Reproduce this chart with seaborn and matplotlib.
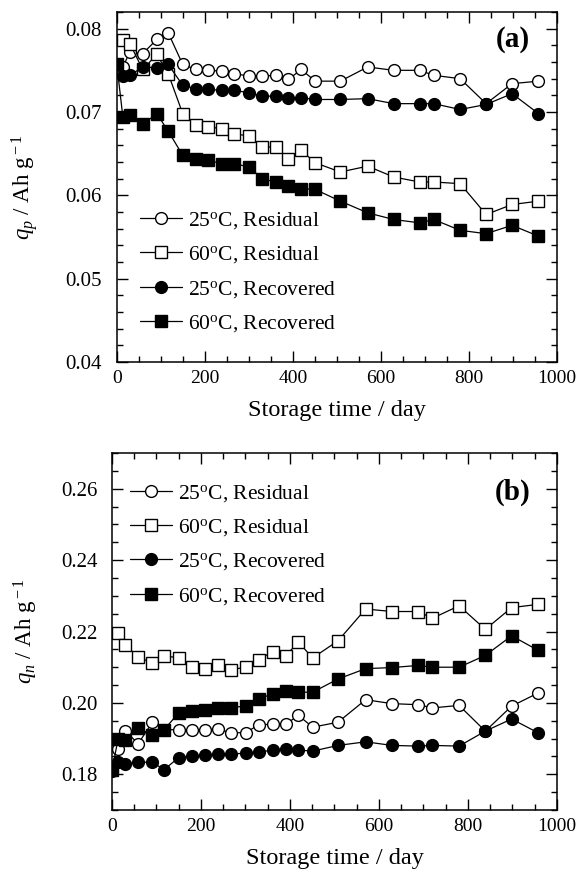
import matplotlib
matplotlib.use("Agg")
import matplotlib.pyplot as plt
import seaborn as sns
import pandas as pd
from matplotlib.ticker import MultipleLocator

# ---------------- data ----------------
days_all = [0, 14, 30, 59, 91, 117, 150, 180, 208, 239, 267, 301, 330, 361, 390,
            419, 451, 508, 570, 629, 688, 720, 780, 839, 898, 958]
days_res = days_all[1:]

labels = ["25$^{\\rm o}$C, Residual", "60$^{\\rm o}$C, Residual",
          "25$^{\\rm o}$C, Recovered", "60$^{\\rm o}$C, Recovered"]

# panel (a): q_p
res25_a = [0.0754, 0.0772, 0.0770, 0.0787, 0.0795, 0.0757, 0.0751, 0.0750, 0.0749,
           0.0746, 0.0743, 0.0743, 0.0744, 0.0739, 0.0751, 0.0737, 0.0737, 0.0754,
           0.0750, 0.0750, 0.0744, 0.0740, 0.0710, 0.0734, 0.0737]
res60_a = [0.0786, 0.0782, 0.0751, 0.0769, 0.0746, 0.0698, 0.0684, 0.0682, 0.0680,
           0.0674, 0.0671, 0.0658, 0.0658, 0.0643, 0.0654, 0.0639, 0.0628, 0.0635,
           0.0622, 0.0616, 0.0616, 0.0614, 0.0577, 0.0589, 0.0593]
rec25_a = [0.0758, 0.0743, 0.0744, 0.0754, 0.0753, 0.0757, 0.0732, 0.0728, 0.0727,
           0.0726, 0.0726, 0.0723, 0.0719, 0.0719, 0.0717, 0.0717, 0.0715, 0.0715,
           0.0716, 0.0710, 0.0710, 0.0710, 0.0703, 0.0709, 0.0722, 0.0698]
rec60_a = [0.0758, 0.0694, 0.0696, 0.0685, 0.0698, 0.0677, 0.0648, 0.0643, 0.0642,
           0.0638, 0.0638, 0.0634, 0.0620, 0.0616, 0.0611, 0.0608, 0.0607, 0.0593,
           0.0579, 0.0571, 0.0567, 0.0571, 0.0558, 0.0554, 0.0564, 0.0551]

# panel (b): q_n
res25_b = [0.1870, 0.1921, 0.1886, 0.1946, 0.1925, 0.1925, 0.1925, 0.1925, 0.1927,
           0.1916, 0.1917, 0.1939, 0.1940, 0.1940, 0.1965, 0.1932, 0.1946, 0.2009,
           0.1998, 0.1995, 0.1986, 0.1993, 0.1921, 0.1991, 0.2028]
res60_b = [0.2195, 0.2163, 0.2128, 0.2112, 0.2132, 0.2126, 0.2100, 0.2095, 0.2107,
           0.2093, 0.2100, 0.2121, 0.2144, 0.2132, 0.2170, 0.2126, 0.2174, 0.2263,
           0.2256, 0.2256, 0.2237, 0.2272, 0.2206, 0.2267, 0.2276]
rec25_b = [0.1809, 0.1835, 0.1830, 0.1834, 0.1834, 0.1813, 0.1847, 0.1851, 0.1853,
           0.1856, 0.1856, 0.1860, 0.1862, 0.1868, 0.1872, 0.1868, 0.1865, 0.1881,
           0.1891, 0.1881, 0.1879, 0.1881, 0.1879, 0.1921, 0.1955, 0.1916]
rec60_b = [0.1812, 0.1900, 0.1896, 0.1930, 0.1909, 0.1925, 0.1972, 0.1977, 0.1979,
           0.1986, 0.1986, 0.1992, 0.2012, 0.2025, 0.2034, 0.2030, 0.2030, 0.2067,
           0.2096, 0.2099, 0.2105, 0.2100, 0.2100, 0.2133, 0.2188, 0.2147]

# ---------------- style ----------------
sns.set_theme(style="ticks", rc={"axes.edgecolor": "black", "text.color": "black",
                                 "xtick.color": "black", "ytick.color": "black",
                                 "axes.labelcolor": "black"})
plt.rcParams["font.family"] = ["Liberation Serif", "DejaVu Serif"]
plt.rcParams["mathtext.fontset"] = "custom"
plt.rcParams["mathtext.rm"] = "Liberation Serif"
plt.rcParams["mathtext.it"] = "Liberation Serif:italic"
plt.rcParams["mathtext.bf"] = "Liberation Serif:bold"

FS = 15.5
markers = ["o", "s", "o", "s"]
faces = ["white", "white", "black", "black"]

fig = plt.figure(figsize=(5.76, 8.74), dpi=100)
ax_a = fig.add_axes([0.2026, 0.5858, 0.7644, 0.4005])
ax_b = fig.add_axes([0.1944, 0.0732, 0.7726, 0.4085])


def draw(ax, series):
    for (xs, ys), lab, m, fc in zip(series, labels, markers, faces):
        df = pd.DataFrame({"day": xs, "q": ys})
        sns.lineplot(data=df, x="day", y="q", ax=ax, sort=False, estimator=None,
                     color="black", linewidth=0.9, marker=m,
                     markersize=8.5 if m == "o" else 8,
                     markerfacecolor=fc, markeredgecolor="black", markeredgewidth=1.0,
                     label=lab)


draw(ax_a, [(days_res, res25_a), (days_res, res60_a), (days_all, rec25_a), (days_all, rec60_a)])
draw(ax_b, [(days_res, res25_b), (days_res, res60_b), (days_all, rec25_b), (days_all, rec60_b)])

for ax in (ax_a, ax_b):
    ax.set_xlim(0, 1000)
    ax.xaxis.set_major_locator(MultipleLocator(200))
    ax.xaxis.set_minor_locator(MultipleLocator(50))
    ax.tick_params(which="both", direction="in", top=True, right=True, width=1.0)
    ax.tick_params(which="major", length=8)
    ax.tick_params(which="minor", length=4)
    ax.tick_params(axis="x", which="major", pad=6, labelsize=14)
    ax.tick_params(axis="y", which="major", pad=10.5, labelsize=15)
    for s in ax.spines.values():
        s.set_linewidth(1.1)
        s.set_color("black")
    ax.set_xlabel("Storage time / day", fontsize=17.5, labelpad=9)

ax_a.set_ylim(0.04, 0.082)
ax_a.yaxis.set_minor_locator(MultipleLocator(0.002))
ax_a.set_yticks([0.04, 0.05, 0.06, 0.07, 0.08])
ax_a.set_yticklabels(["0.04", "0.05", "0.06", "0.07", "0.08"])
ax_a.set_ylabel("$q_p$ / Ah g$^{\\rm -1}$", fontsize=16.5)
ax_a.yaxis.set_label_coords(-0.174, 0.5)

ax_b.set_ylim(0.17, 0.27)
ax_b.yaxis.set_minor_locator(MultipleLocator(0.005))
ax_b.set_yticks([0.18, 0.20, 0.22, 0.24, 0.26])
ax_b.set_yticklabels(["0.18", "0.20", "0.22", "0.24", "0.26"])
ax_b.set_ylabel("$q_n$ / Ah g$^{\\rm -1}$", fontsize=16.5)
ax_b.yaxis.set_label_coords(-0.162, 0.5)

leg_kw = dict(frameon=False, fontsize=FS, numpoints=1, handlelength=1.95,
              handletextpad=0.3, labelspacing=0.63, borderpad=0, borderaxespad=0,
              loc="upper left")
ax_a.legend(bbox_to_anchor=(0.053, 0.434), **leg_kw)
ax_b.legend(bbox_to_anchor=(0.040, 0.917), **leg_kw)

ax_a.text(0.90, 0.92, "(a)", transform=ax_a.transAxes, fontsize=21,
          fontweight="bold", ha="center", va="center")
ax_b.text(0.90, 0.89, "(b)", transform=ax_b.transAxes, fontsize=21,
          fontweight="bold", ha="center", va="center")

fig.savefig("out.png", dpi=100)
